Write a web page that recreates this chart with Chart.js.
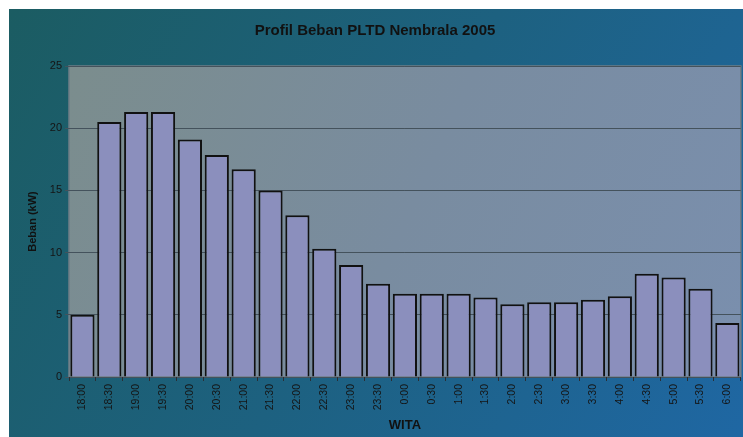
<!DOCTYPE html>
<html>
<head>
<meta charset="utf-8">
<script src="https://cdn.jsdelivr.net/npm/chart.js@4/dist/chart.umd.min.js"></script>
<style>
html,body{margin:0;padding:0;background:#fff;}
#wrap{width:743px;height:437px;position:relative;}
</style>
</head>
<body>
<div id="wrap"><canvas id="c" width="743" height="437"></canvas></div>
<script>
const categories = ["18:00","18:30","19:00","19:30","20:00","20:30","21:00","21:30","22:00","22:30","23:00","23:30","0:00","0:30","1:00","1:30","2:00","2:30","3:00","3:30","4:00","4:30","5:00","5:30","6:00"];
const bebanKW = [5.0,20.5,21.3,21.3,19.1,17.85,16.7,15.0,13.0,10.3,9.0,7.5,6.7,6.7,6.7,6.4,5.85,6.0,6.0,6.2,6.5,8.3,8.0,7.1,4.35];
const yTicks = [0,5,10,15,20,25];

const bgPlugin = {
  id: 'bg',
  beforeDraw(chart) {
    const ctx = chart.ctx;
    ctx.save();
    ctx.fillStyle = '#ffffff';
    ctx.fillRect(0,0,chart.width,chart.height);
    const g = ctx.createLinearGradient(9,9,743,437);
    g.addColorStop(0,'#1b5c62');
    g.addColorStop(0.5,'#1d6180');
    g.addColorStop(1,'#1f67a3');
    ctx.fillStyle = g;
    ctx.fillRect(9,9,chart.width-9,chart.height-9);
    const a = chart.chartArea;
    const g2 = ctx.createLinearGradient(a.left,a.top,a.right,a.bottom);
    g2.addColorStop(0,'#7b8d8d');
    g2.addColorStop(0.5,'#798ca0');
    g2.addColorStop(1,'#7a8fae');
    ctx.fillStyle = g2;
    ctx.fillRect(a.left,a.top,a.right-a.left,a.bottom-a.top);
    ctx.strokeStyle = '#6f7d86';
    ctx.lineWidth = 1.5;
    ctx.strokeRect(a.left,a.top,a.right-a.left,a.bottom-a.top);
    ctx.restore();
  }
};

new Chart(document.getElementById('c'), {
  type: 'bar',
  data: {
    labels: categories,
    datasets: [{
      data: bebanKW,
      backgroundColor: '#8b8fbd',
      borderColor: '#111111',
      borderWidth: 2,
      barPercentage: 1.0,
      categoryPercentage: 0.9
    }]
  },
  options: {
    responsive: false,
    animation: false,
    layout: { padding: { left: 9, top: 9, right: 2, bottom: 0 } },
    plugins: {
      legend: { display: false },
      tooltip: { enabled: false },
      title: {
        display: true,
        text: 'Profil Beban PLTD Nembrala 2005',
        color: '#111111',
        font: { family: 'Liberation Sans, Arial', size: 15, weight: 'bold' },
        padding: { top: 13, bottom: 26 }
      }
    },
    scales: {
      y: {
        min: 0, max: 25,
        afterBuildTicks(axis) { axis.ticks = yTicks.map(v => ({ value: v })); },
        afterFit(axis) { axis.width = 60; },
        ticks: {
          color: '#151515',
          font: { family: 'Liberation Sans, Arial', size: 11 },
          padding: 3
        },
        grid: { color: '#44525c', lineWidth: 1, tickLength: 4, drawTicks: true },
        border: { display: false },
        title: {
          display: true,
          text: 'Beban (kW)',
          color: '#111111',
          font: { family: 'Liberation Sans, Arial', size: 11, weight: 'bold' },
          padding: { top: 17, bottom: 0 }
        }
      },
      x: {
        afterFit(axis) { axis.height = 60; },
        ticks: {
          color: '#151515',
          font: { family: 'Liberation Sans, Arial', size: 10.5 },
          minRotation: 90, maxRotation: 90,
          autoSkip: false,
          padding: 3
        },
        grid: { display: true, drawOnChartArea: false, color: '#2a2f35', tickLength: 4, offset: true },
        border: { display: false },
        title: {
          display: true,
          text: 'WITA',
          color: '#111111',
          font: { family: 'Liberation Sans, Arial', size: 13, weight: 'bold' },
          padding: { top: 0, bottom: 4 }
        }
      }
    }
  },
  plugins: [bgPlugin]
});
</script>
</body>
</html>
